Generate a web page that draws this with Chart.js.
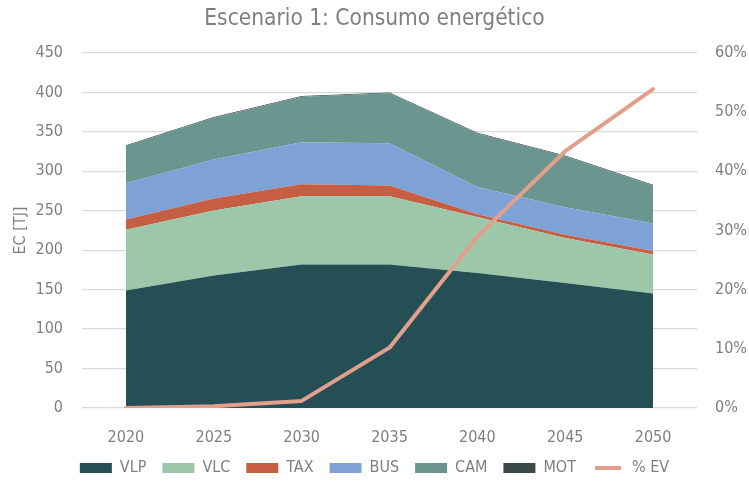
<!DOCTYPE html>
<html>
<head>
<meta charset="utf-8">
<script src="https://cdn.jsdelivr.net/npm/chart.js@4/dist/chart.umd.min.js"></script>
<style>
  html, body { margin: 0; padding: 0; background: #fff; }
  #wrap { width: 749px; height: 482px; }
</style>
</head>
<body>
<div id="wrap"><canvas id="energyChart"></canvas></div>
<script>
const years = ['2020', '2025', '2030', '2035', '2040', '2045', '2050'];
const vlp = [149, 168, 182, 182, 171, 158.5, 145];
const vlc = [77, 82.5, 86.5, 86.5, 71, 57, 49.5];
const tax = [13, 15, 15, 13.5, 3.5, 4, 4.5];
const bus = [46, 49.5, 53.5, 53.5, 34.5, 35, 35];
const cam = [47, 53, 57.5, 63.5, 68, 64.5, 48];
const mot = [1, 1, 1, 1, 1, 1, 1];
const evShare = [0, 0.3, 1.2, 10.2, 29, 43.4, 53.9];
const leftTicks = [0, 50, 100, 150, 200, 250, 300, 350, 400, 450];
const rightTicks = [0, 10, 20, 30, 40, 50, 60];

const FONT = '"Liberation Sans Narrow", "DejaVu Sans Condensed", "Roboto", sans-serif';
const GREY = '#7f7f7f';

function area(label, data, color) {
    return {
        label: label,
        data: data,
        backgroundColor: color,
        borderColor: color,
        borderWidth: 0,
        pointRadius: 0,
        fill: label === 'VLP' ? 'origin' : '-1',
        yAxisID: 'y',
        tension: 0
    };
}

// fixed legend height so the plot area lands where the reference has it
const legendHeight = {
    id: 'legendHeight',
    afterInit: function (chart) {
        const lg = chart.legend;
        const fit = lg.fit;
        lg.fit = function () {
            fit.call(this);
            this.height = 38;
        };
    }
};

const ctx = document.getElementById('energyChart').getContext('2d');
new Chart(ctx, {
    type: 'line',
    data: {
        labels: years,
        datasets: [
            area('VLP', vlp, '#254f55'),
            area('VLC', vlc, '#9dc7a9'),
            area('TAX', tax, '#c55e43'),
            area('BUS', bus, '#7fa2d6'),
            area('CAM', cam, '#6b958f'),
            area('MOT', mot, '#3a4a48'),
            {
                label: '% EV',
                data: evShare,
                borderColor: '#e2a08c',
                backgroundColor: '#e2a08c',
                borderWidth: 4,
                pointRadius: 0,
                fill: false,
                yAxisID: 'y1',
                borderCapStyle: 'round',
                borderJoinStyle: 'round'
            }
        ]
    },
    plugins: [legendHeight],
    options: {
        responsive: true,
        maintainAspectRatio: false,
        animation: false,
        layout: { padding: 0 },
        plugins: {
            filler: { drawTime: 'beforeDatasetsDraw' },
            tooltip: { enabled: false },
            title: {
                display: true,
                text: 'Escenario 1: Consumo energético',
                color: GREY,
                font: { family: FONT, size: 22.5, weight: 'normal' },
                padding: { top: 6, bottom: 20 }
            },
            legend: {
                position: 'bottom',
                labels: {
                    color: GREY,
                    font: { family: FONT, size: 16 },
                    boxWidth: 32,
                    boxHeight: 10,
                    padding: 16,
                    generateLabels: function (chart) {
                        return chart.data.datasets.map(function (ds, i) {
                            const isLine = ds.label === '% EV';
                            return {
                                text: ds.label,
                                fillStyle: ds.backgroundColor,
                                strokeStyle: isLine ? '#ffffff' : ds.backgroundColor,
                                lineWidth: isLine ? 6 : 0,
                                fontColor: GREY,
                                datasetIndex: i
                            };
                        });
                    }
                }
            }
        },
        scales: {
            x: {
                offset: true,
                grid: { display: false, drawTicks: false },
                border: { display: false },
                ticks: { color: GREY, font: { family: FONT, size: 16 }, padding: 20 },
                afterFit: function (scale) { scale.height = 36; }
            },
            y: {
                stacked: true,
                min: 0,
                max: 450,
                afterBuildTicks: function (scale) {
                    scale.ticks = leftTicks.map(function (v) { return { value: v }; });
                },
                afterFit: function (scale) { scale.width = 82; },
                grid: { color: '#d9d9d9', lineWidth: 1.3, drawTicks: false },
                border: { display: false },
                ticks: { color: GREY, font: { family: FONT, size: 16 }, padding: 19 },
                title: {
                    display: true,
                    text: 'EC [TJ]',
                    color: GREY,
                    font: { family: FONT, size: 16 },
                    padding: { top: 11, bottom: 0 }
                }
            },
            y1: {
                position: 'right',
                min: 0,
                max: 60,
                afterBuildTicks: function (scale) {
                    scale.ticks = rightTicks.map(function (v) { return { value: v }; });
                },
                afterFit: function (scale) { scale.width = 52; },
                grid: { display: false, drawTicks: false },
                border: { display: false },
                ticks: {
                    color: GREY,
                    font: { family: FONT, size: 16 },
                    padding: 18,
                    callback: function (v) { return v + '%'; }
                }
            }
        }
    }
});
</script>
</body>
</html>
